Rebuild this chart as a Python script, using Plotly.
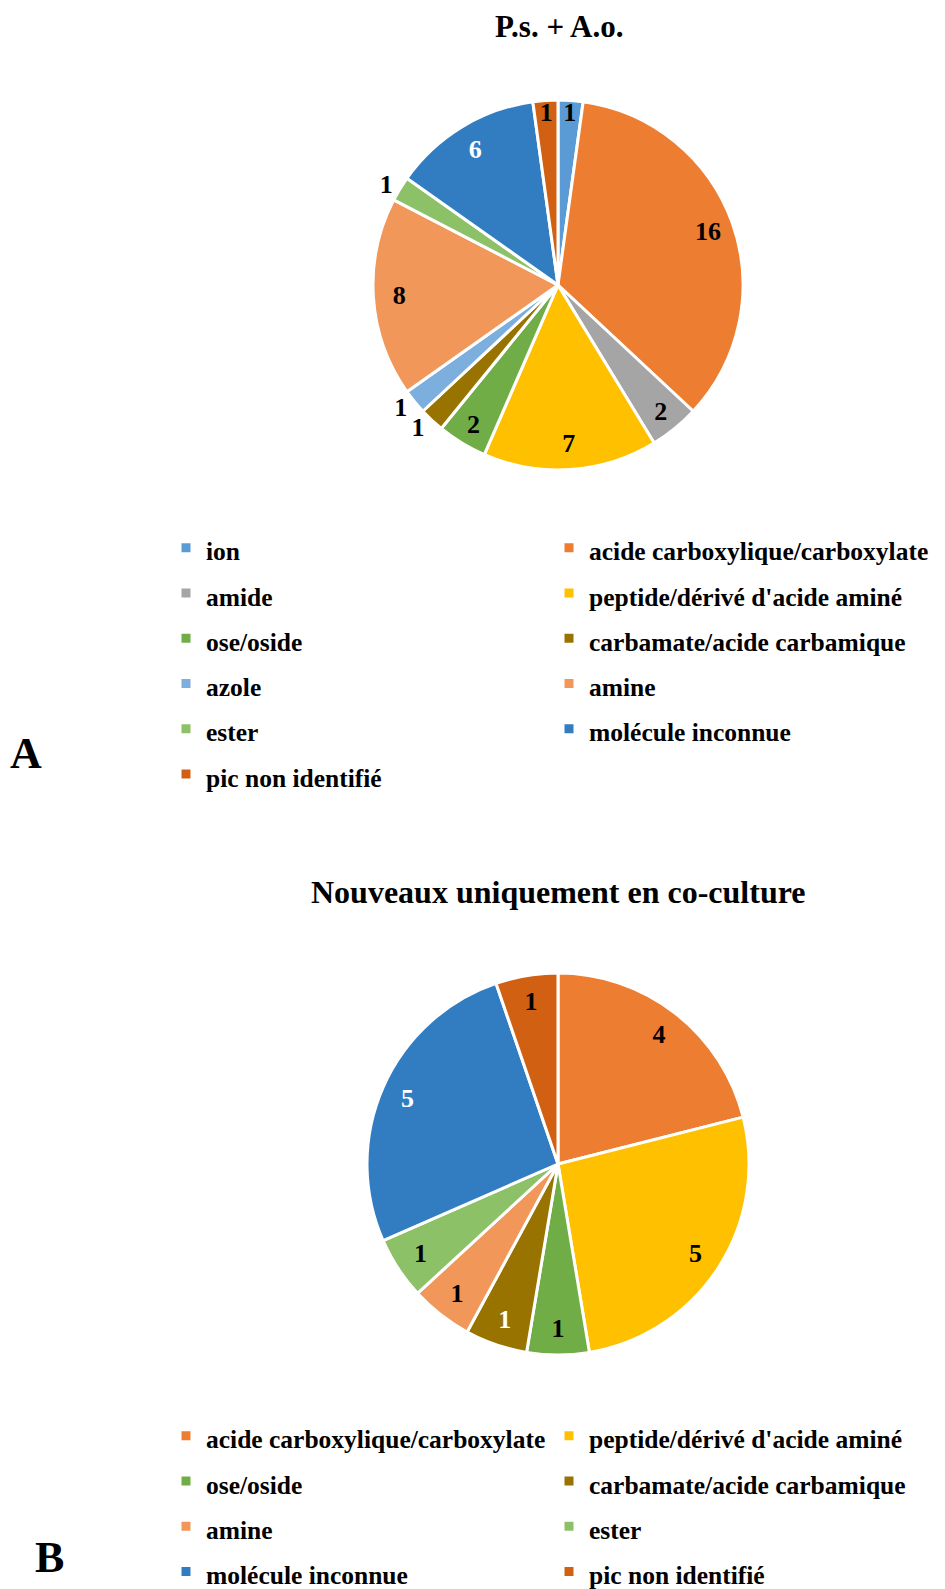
import plotly.graph_objects as go

# chart A : P.s. + A.o.
labels_a = ["ion", "acide carboxylique/carboxylate", "amide", "peptide/dérivé d'acide aminé",
            "ose/oside", "carbamate/acide carbamique", "azole", "amine", "ester",
            "molécule inconnue", "pic non identifié"]
values_a = [1, 16, 2, 7, 2, 1, 1, 8, 1, 6, 1]

# chart B : nouveaux uniquement en co-culture
labels_b = ["acide carboxylique/carboxylate", "peptide/dérivé d'acide aminé", "ose/oside",
            "carbamate/acide carbamique", "amine", "ester", "molécule inconnue", "pic non identifié"]
values_b = [4, 5, 1, 1, 1, 1, 5, 1]

colors = {
    "ion": "#5B9BD5",
    "acide carboxylique/carboxylate": "#ED7D31",
    "amide": "#A5A5A5",
    "peptide/dérivé d'acide aminé": "#FFC000",
    "ose/oside": "#70AD47",
    "carbamate/acide carbamique": "#997300",
    "azole": "#7CAFDD",
    "amine": "#F1975A",
    "ester": "#8CC168",
    "molécule inconnue": "#327DC2",
    "pic non identifié": "#D26012",
}

FONT = "Liberation Serif"
W, H = 945, 1589
OFF = 8  # the page body margin shifts the figure by 8px
CLEAR = "rgba(0,0,0,0)"


def px(x):
    return (x - OFF) / W


def py(y):
    return 1 - (y - OFF) / H


def span(txt, tag=""):
    # smaller text inside a taller legend line (tag keeps the two legends apart)
    return "<b><span style='font-size:25.5px" + tag + "'>" + txt + "</span></b>"


def dom(cx, cy, r):
    return dict(x=[px(cx - r), px(cx + r)], y=[py(cy + r), py(cy - r)])


def text_trace(labels, values, d, pos, cols):
    # transparent ring on top of the pie: puts the value labels near the rim
    return go.Pie(
        labels=labels, values=values, sort=False, direction="clockwise", hole=0.72,
        marker=dict(colors=[CLEAR] * len(values), line=dict(width=0)),
        texttemplate=["<b>%{value}</b>" if p != "none" else "" for p in pos],
        textposition=pos, insidetextorientation="horizontal",
        textfont=dict(family=FONT, size=26, color=cols),
        outsidetextfont=dict(family=FONT, size=26, color="black"),
        domain=d, showlegend=False, hoverinfo="skip",
    )


fig = go.Figure()

# pie A
dA = dom(558, 285, 185)
fig.add_trace(go.Pie(
    labels=[span(l) for l in labels_a], values=values_a,
    marker=dict(colors=[colors[l] for l in labels_a], line=dict(color="white", width=3)),
    sort=False, direction="clockwise", textinfo="none",
    domain=dA, legend="legend", hoverinfo="label+value",
))
pos_a = ["inside", "inside", "inside", "inside", "inside", "none", "outside",
         "inside", "outside", "inside", "inside"]
pos_a2 = ["none"] * len(labels_a)
pos_a2[labels_a.index("carbamate/acide carbamique")] = "outside"
col_a = ["white" if l == "molécule inconnue" else "black" for l in labels_a]
fig.add_trace(text_trace(labels_a, values_a, dA, pos_a, col_a))
fig.add_trace(text_trace(labels_a, values_a, dA, pos_a2, col_a))

# pie B
dB = dom(558, 1164, 191)
fig.add_trace(go.Pie(
    labels=[span(l, ";") for l in labels_b], values=values_b,
    marker=dict(colors=[colors[l] for l in labels_b], line=dict(color="white", width=3)),
    sort=False, direction="clockwise", textinfo="none",
    domain=dB, legend="legend2", hoverinfo="label+value",
))
col_b = ["white" if l in ("molécule inconnue", "carbamate/acide carbamique") else "black"
         for l in labels_b]
fig.add_trace(text_trace(labels_b, values_b, dB, ["inside"] * len(labels_b), col_b))

leg = dict(orientation="h", xanchor="left", yanchor="top", entrywidth=338,
           font=dict(family=FONT, size=32.5, color="black"), bgcolor=CLEAR,
           traceorder="normal")

ann = dict(xref="paper", yref="paper", showarrow=False, xanchor="center", yanchor="middle")
fig.update_layout(
    width=W, height=H, margin=dict(l=0, r=0, t=0, b=0, autoexpand=False),
    paper_bgcolor="white", plot_bgcolor="white",
    uniformtext=dict(minsize=26, mode="show"),
    legend=dict(leg, x=px(166), y=py(520)),
    legend2=dict(leg, x=px(166), y=py(1408)),
    annotations=[
        dict(ann, text="<b>P.s. + A.o.</b>", x=px(559), y=py(27),
             font=dict(family=FONT, size=31, color="black")),
        dict(ann, text="<b>Nouveaux uniquement en co-culture</b>", x=px(558), y=py(892),
             font=dict(family=FONT, size=32, color="black")),
        dict(ann, text="<b>A</b>", x=px(26), y=py(753),
             font=dict(family=FONT, size=44, color="black")),
        dict(ann, text="<b>B</b>", x=px(49), y=py(1557),
             font=dict(family=FONT, size=44, color="black")),
    ],
)

fig.write_html("out.html")
